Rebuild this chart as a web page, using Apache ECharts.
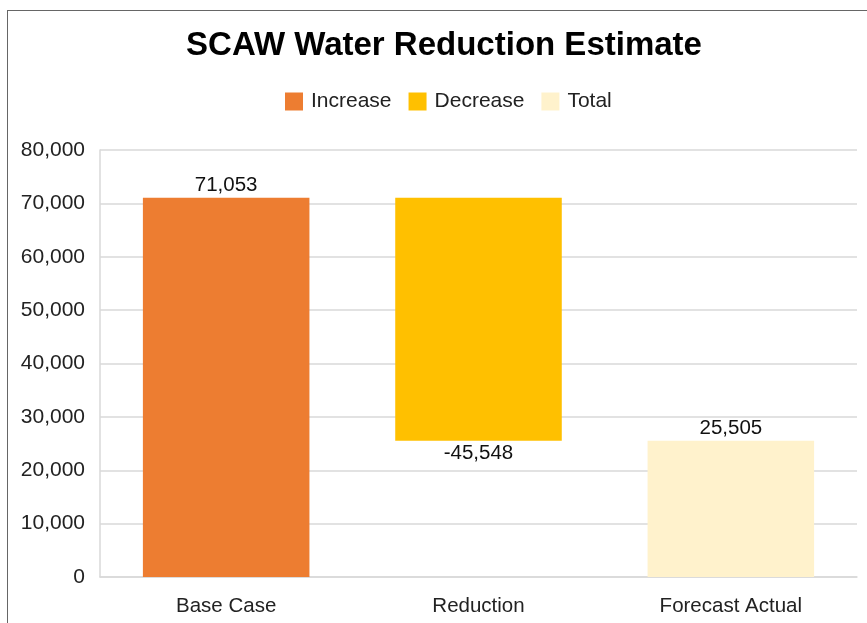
<!DOCTYPE html>
<html>
<head>
<meta charset="utf-8">
<script src="https://cdn.jsdelivr.net/npm/echarts@6/dist/echarts.min.js"></script>
<style>
  html, body { margin: 0; padding: 0; background: #fff; }
  #chart { position: absolute; left: 0; top: 0; width: 867px; height: 623px; }
  #frame {
    position: absolute; left: 7px; top: 10px; width: 870px; height: 620px;
    border-left: 1px solid #666; border-top: 1px solid #666;
    pointer-events: none;
  }
</style>
</head>
<body>
<div id="chart"></div>
<div id="frame"></div>
<script>
// waterfall data
const categories = ['Base Case', 'Reduction', 'Forecast Actual']
const increaseValues = [71053, '-', '-']
const decreaseValues = ['-', 45548, '-']
const totalValues = ['-', '-', 25505]
const yTicks = { min: 0, max: 80000, interval: 10000 }

// invisible base under each floating bar
const baseValues = categories.map((_, i) => {
  if (i === 1) return increaseValues[0] - decreaseValues[1]
  return 0
})

const fmt = v => Number(v).toLocaleString('en-US')
const font = '"Liberation Sans", Arial, sans-serif'

const chart = echarts.init(document.getElementById('chart'))

chart.setOption({
  backgroundColor: '#fff',
  animation: false,
  textStyle: { fontFamily: font },
  title: {
    text: 'SCAW Water Reduction Estimate',
    left: 439,
    textAlign: 'center',
    top: 24,
    textStyle: { fontSize: 33, fontWeight: 'bold', color: '#000', fontFamily: font }
  },
  legend: {
    top: 86,
    left: 280,
    itemWidth: 18,
    itemHeight: 18,
    itemGap: 17,
    icon: 'rect',
    data: ['Increase', 'Decrease', 'Total'],
    textStyle: { fontSize: 21, color: '#222', fontFamily: font, padding: [0, 0, 0, 3] }
  },
  grid: { left: 100, right: 10, top: 150, bottom: 46 },
  xAxis: {
    type: 'category',
    data: categories,
    axisLine: { lineStyle: { color: '#d9d9d9', width: 1.5 } },
    axisTick: { show: false },
    axisLabel: { fontSize: 20.5, color: '#222', margin: 19, fontFamily: font }
  },
  yAxis: {
    type: 'value',
    min: yTicks.min,
    max: yTicks.max,
    interval: yTicks.interval,
    axisLine: { show: true, lineStyle: { color: '#d9d9d9', width: 1.5 } },
    axisTick: { show: false },
    splitLine: { lineStyle: { color: '#d9d9d9', width: 1.5 } },
    axisLabel: { fontSize: 21, color: '#222', margin: 15, fontFamily: font, formatter: v => fmt(v) }
  },
  series: [
    {
      name: 'base',
      type: 'bar',
      stack: 'wf',
      barWidth: '66%',
      itemStyle: { color: 'transparent' },
      emphasis: { disabled: true },
      data: baseValues
    },
    {
      name: 'Increase',
      type: 'bar',
      stack: 'wf',
      itemStyle: { color: '#ED7D31' },
      label: { show: true, position: 'top', distance: 2, fontSize: 20.5, color: '#111', formatter: p => fmt(p.value) },
      data: increaseValues
    },
    {
      name: 'Decrease',
      type: 'bar',
      stack: 'wf',
      itemStyle: { color: '#FFC000' },
      label: { show: true, position: 'bottom', distance: 2, fontSize: 20.5, color: '#111', formatter: p => '-' + fmt(p.value) },
      data: decreaseValues
    },
    {
      name: 'Total',
      type: 'bar',
      stack: 'wf',
      itemStyle: { color: '#FFF2CC' },
      label: { show: true, position: 'top', distance: 2, fontSize: 20.5, color: '#111', formatter: p => fmt(p.value) },
      data: totalValues
    }
  ]
})

window.addEventListener('resize', () => chart.resize())
</script>
</body>
</html>
